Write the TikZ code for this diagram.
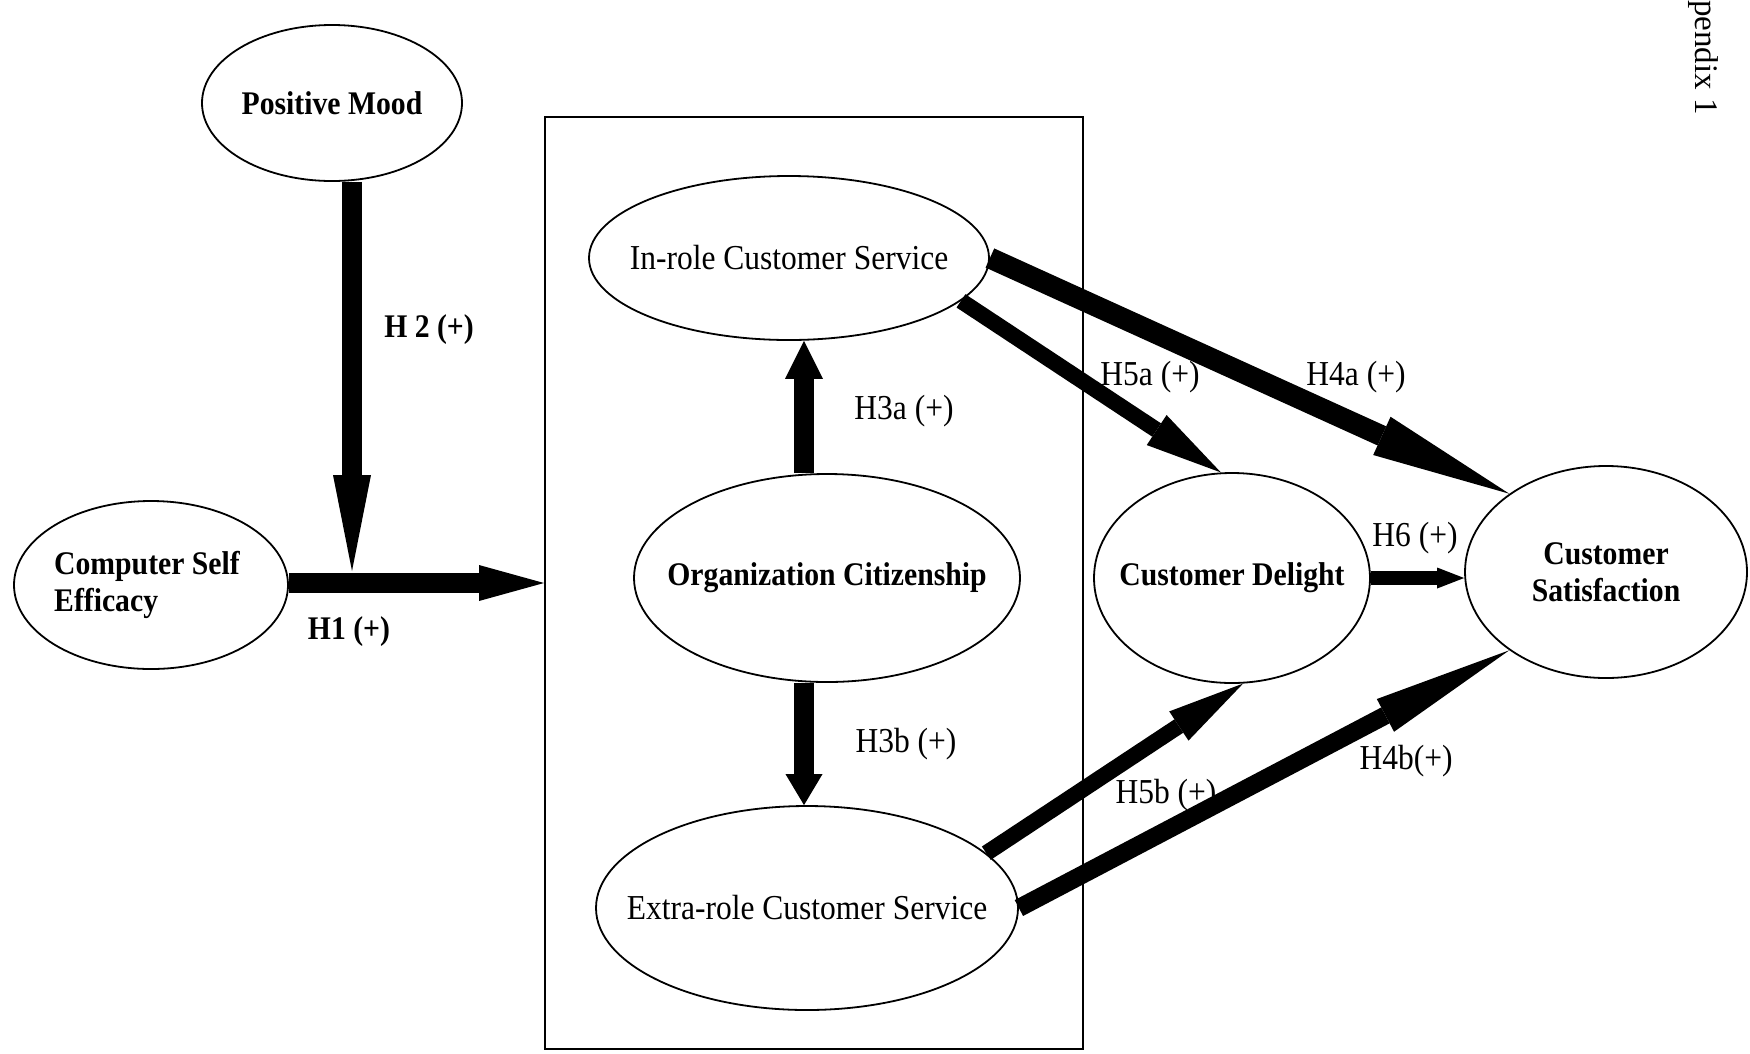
\documentclass[tikz,border=0pt]{standalone}
\usepackage{fontspec}
\setmainfont{Liberation Serif}
\newfontfamily\narrowserif[FakeStretch=0.9]{Liberation Serif}
\usetikzlibrary{shapes.geometric,arrows.meta}
\begin{document}
\begin{tikzpicture}[x=1pt,y=-1pt,
  construct/.style={draw, ellipse, line width=1.8pt, inner sep=0pt},
  boldname/.style={font=\narrowserif\fontsize{33}{37}\selectfont\bfseries, align=center},
  plainname/.style={font=\narrowserif\fontsize{35}{39}\selectfont, align=center},
  hyp/.style={font=\narrowserif\fontsize{35}{39}\selectfont, inner sep=0pt},
  hypbold/.style={font=\narrowserif\fontsize{33}{37}\selectfont\bfseries, inner sep=0pt},
  hyparrow/.style n args={3}{line width=#1,
    -{Triangle[length=#2, width=#3, line width=0pt]}},
]
\useasboundingbox (0,0) rectangle (1750,1053);

% frame around the three service constructs
\node[draw, line width=2pt, minimum width=538pt, minimum height=932pt, inner sep=0pt]
  (frame) at (814,583) {};

% constructs
\node[construct, minimum width=260pt, minimum height=156pt,
      label={[boldname]center:Positive Mood}] (pm) at (332,103) {};
\node[construct, minimum width=274pt, minimum height=168pt,
      label={[boldname, align=left, xshift=-4pt]center:Computer Self\\Efficacy}] (cse) at (151,585) {};
\node[construct, minimum width=400pt, minimum height=164pt,
      label={[plainname]center:In-role Customer Service}] (ir) at (789,258) {};
\node[construct, minimum width=386pt, minimum height=208pt,
      label={[boldname]center:Organization Citizenship}] (oc) at (827,578) {};
\node[construct, minimum width=422pt, minimum height=204pt,
      label={[plainname]center:Extra-role Customer Service}] (er) at (807,908) {};
\node[construct, minimum width=276pt, minimum height=210pt,
      label={[boldname]center:Customer Delight}] (cd) at (1232,578) {};
\node[construct, minimum width=282pt, minimum height=212pt,
      label={[boldname]center:Customer\\Satisfaction}] (cs) at (1606,572) {};

% connector end points that are not node borders
\coordinate (h2tip) at (352,571);
\coordinate (col) at (804,0);
\coordinate (h1row) at (0,583);

% hypothesised paths
\draw[hyparrow={20pt}{96pt}{38pt}] (h2tip |- pm.south) -- (h2tip);
\draw[hyparrow={20pt}{65pt}{36pt}] (h1row -| cse.east) -- (h1row -| frame.west);
\draw[hyparrow={20pt}{38pt}{38pt}] (col |- oc.north) -- (col |- ir.south);
\draw[hyparrow={20pt}{31pt}{37pt}] (col |- oc.south) -- (col |- er.north);
\draw[hyparrow={21pt}{140pt}{42pt}] (ir.east) -- (cs.141);
\draw[hyparrow={16pt}{77pt}{36pt}] (ir.-14) -- (cd.96);
\draw[hyparrow={14pt}{27pt}{21pt}] (cd.east) -- (cd.east -| cs.west);
\draw[hyparrow={16pt}{77pt}{35pt}] (er.17) -- (cd.-84);
\draw[hyparrow={18pt}{140pt}{37pt}] (er.east) -- (cs.219);

% path labels
\node[hypbold] (lh2) at (429,330) {H 2 (+)};
\node[hypbold] (lh1) at (349,632) {H1 (+)};
\node[hyp] (lh3a) at (904,411) {H3a (+)};
\node[hyp] (lh3b) at (906,744) {H3b (+)};
\node[hyp] (lh5a) at (1150,377) {H5a (+)};
\node[hyp] (lh4a) at (1356,377) {H4a (+)};
\node[hyp] (lh6) at (1415,538) {H6 (+)};
\node[hyp] (lh5b) at (1166,795) {H5b (+)};
\node[hyp] (lh4b) at (1406,761) {H4b(+)};

% running head of the page
\node[hyp, font=\fontsize{33}{37}\selectfont, rotate=-90, anchor=south west] (head) at (1688,0) {pendix 1};
\end{tikzpicture}
\end{document}
